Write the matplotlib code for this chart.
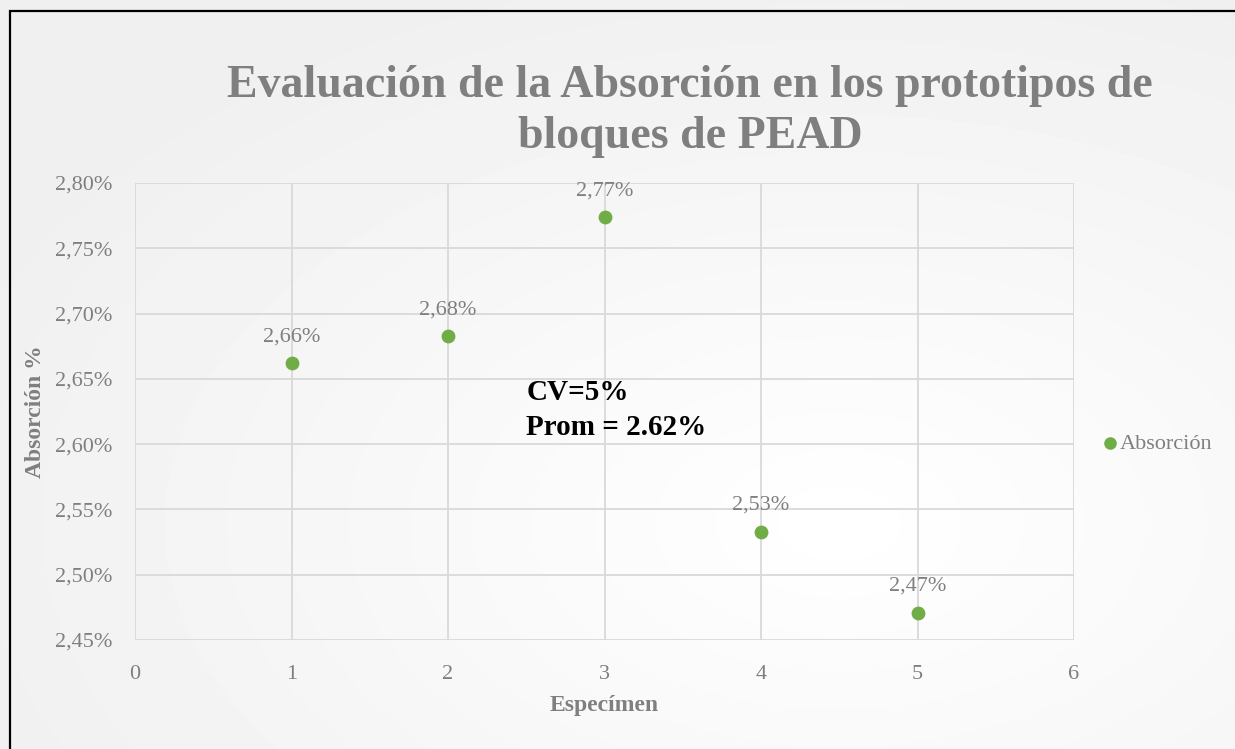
import matplotlib.pyplot as plt
import numpy as np
from matplotlib.patches import Rectangle
from matplotlib.ticker import FuncFormatter

# data
especimen = [1, 2, 3, 4, 5]
absorcion = [2.662, 2.683, 2.774, 2.533, 2.471]  # in %
etiquetas = ['2,66%', '2,68%', '2,77%', '2,53%', '2,47%']
y_ticks = [2.45, 2.50, 2.55, 2.60, 2.65, 2.70, 2.75, 2.80]
x_ticks = [0, 1, 2, 3, 4, 5, 6]

gray = '#7f7f7f'
green = '#70ad47'
plt.rcParams['font.family'] = ['Liberation Serif', 'DejaVu Serif']

fig = plt.figure(figsize=(12.35, 7.49), dpi=100)

# soft radial background, lighter towards lower right
bg = fig.add_axes([0, 0, 1, 1], zorder=-10)
yy, xx = np.mgrid[0:1:200j, 0:1:300j]
r = np.sqrt(((xx - 0.68) / 0.9) ** 2 + ((yy - 0.3) / 0.9) ** 2)
bg.imshow(1 - 0.06 * np.clip(r / 0.85, 0, 1), cmap='gray', vmin=0, vmax=1,
          aspect='auto', extent=[0, 1, 0, 1], interpolation='bilinear',
          origin='lower')
bg.axis('off')

# chart border (only left and top visible in the crop)
fig.patches.append(Rectangle((10 / 1235, -0.1), 1.2, (749 - 11) / 749 + 0.1,
                             transform=fig.transFigure, fill=False,
                             edgecolor='black', linewidth=1.6))

ax = fig.add_axes([135 / 1235, 109 / 749, 939 / 1235, 457 / 749])
ax.set_facecolor('none')
ax.scatter(especimen, absorcion, s=80, color=green, zorder=3, label='Absorción')
for x, y, t in zip(especimen, absorcion, etiquetas):
    ax.annotate(t, (x, y), xytext=(0, 12), textcoords='offset points',
                ha='center', va='bottom', fontsize=16, color=gray)

ax.set_xlim(0, 6)
ax.set_ylim(2.45, 2.80)
ax.set_xticks(x_ticks)
ax.set_yticks(y_ticks)
ax.yaxis.set_major_formatter(FuncFormatter(lambda v, p: f'{v:.2f}%'.replace('.', ',')))
ax.grid(True, color='#d9d9d9', linewidth=1.3)
ax.set_axisbelow(True)
for s in ax.spines.values():
    s.set_visible(False)
ax.tick_params(length=0, labelsize=16, labelcolor=gray)
ax.tick_params(axis='x', pad=18)
ax.tick_params(axis='y', pad=16)

ax.set_xlabel('Especímen', fontsize=17, fontweight='bold', color=gray, labelpad=8)
ax.set_ylabel('Absorción %', fontsize=17, fontweight='bold', color=gray, labelpad=7)

ax.text(2.5, 2.6395, 'CV=5%', fontsize=21, fontweight='bold',
        color='black', ha='left', va='center')
ax.text(2.5, 2.6127, 'Prom = 2.62%', fontsize=21, fontweight='bold',
        color='black', ha='left', va='center')

fig.text(690 / 1235, 1 - 86 / 749, 'Evaluación de la Absorción en los prototipos de',
         ha='center', va='center', fontsize=33, fontweight='bold', color=gray)
fig.text(690 / 1235, 1 - 137 / 749, 'bloques de PEAD',
         ha='center', va='center', fontsize=33, fontweight='bold', color=gray)

ax.legend(loc='center left', bbox_to_anchor=(1.022, 0.43), frameon=False,
          fontsize=16, labelcolor=gray, handlelength=0.6, handletextpad=0.15,
          borderaxespad=0, markerscale=0.9)

fig.savefig('out.png', dpi=100)
